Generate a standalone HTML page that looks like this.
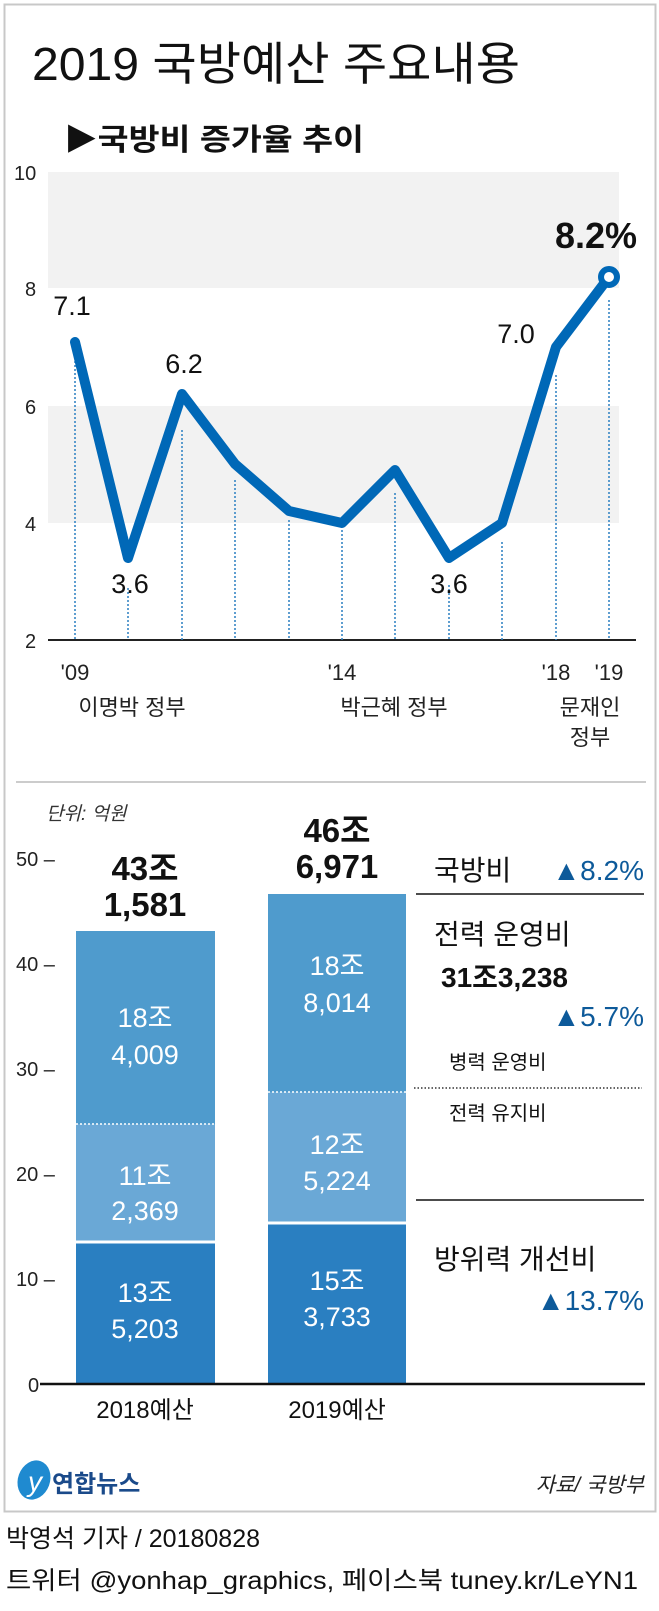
<!DOCTYPE html>
<html><head><meta charset="utf-8"><style>
html,body{margin:0;padding:0;background:#fff}
svg{display:block}
text{font-family:"Liberation Sans","Noto Sans CJK KR","NanumGothic",sans-serif}
</style></head><body>
<svg width="659" height="1611" viewBox="0 0 659 1611" xmlns="http://www.w3.org/2000/svg">
<rect x="4.5" y="4.5" width="651" height="1507" fill="#fff" stroke="#c8c8c8" stroke-width="2"/>
<text x="32" y="80" font-size="46" fill="#111" textLength="488" lengthAdjust="spacingAndGlyphs">2019 국방예산 주요내용</text>
<text x="64" y="150" font-size="30" font-weight="bold" fill="#111" textLength="300" lengthAdjust="spacingAndGlyphs">▶국방비 증가율 추이</text>
<rect x="48" y="172" width="571" height="116" fill="#f2f2f2"/>
<rect x="48" y="406" width="571" height="117" fill="#f2f2f2"/>
<line x1="48" y1="640" x2="636" y2="640" stroke="#222" stroke-width="2"/>
<g font-size="20" fill="#222">
<text x="14" y="180">10</text><text x="25" y="296">8</text><text x="25" y="414">6</text><text x="25" y="531">4</text><text x="25" y="648">2</text>
</g>
<g stroke="#2a7fc1" stroke-width="1.5" stroke-dasharray="2,2">
<line x1="75" y1="345" x2="75" y2="640"/><line x1="128" y1="588" x2="128" y2="640"/>
<line x1="182" y1="430" x2="182" y2="640"/><line x1="235" y1="480" x2="235" y2="640"/>
<line x1="289" y1="520" x2="289" y2="640"/><line x1="342" y1="530" x2="342" y2="640"/>
<line x1="395" y1="493" x2="395" y2="640"/><line x1="449" y1="585" x2="449" y2="640"/>
<line x1="502" y1="542" x2="502" y2="640"/><line x1="556" y1="375" x2="556" y2="640"/>
<line x1="609" y1="300" x2="609" y2="640"/>
</g>
<polyline fill="none" stroke="#0068b7" stroke-width="10" stroke-linejoin="round" stroke-linecap="round"
points="75,342 128,558 182,394 235,464 289,511 342,523 395,470 449,558 502,523 556,347 609,277"/>
<circle cx="609" cy="277" r="8" fill="#fff" stroke="#0068b7" stroke-width="6"/>
<g font-size="27" fill="#111" text-anchor="middle">
<text x="72" y="315">7.1</text><text x="130" y="593">3.6</text><text x="184" y="373">6.2</text>
<text x="449" y="593">3.6</text><text x="516" y="343">7.0</text>
</g>
<text x="596" y="248" font-size="36" font-weight="bold" fill="#111" text-anchor="middle">8.2%</text>
<g font-size="22" fill="#222" text-anchor="middle">
<text x="75" y="680">'09</text><text x="342" y="680">'14</text><text x="556" y="680">'18</text><text x="609" y="680">'19</text>
<text x="132" y="715">이명박 정부</text><text x="394" y="715">박근혜 정부</text>
<text x="590" y="715">문재인</text><text x="590" y="745">정부</text>
</g>
<line x1="16" y1="782" x2="646" y2="782" stroke="#ccc" stroke-width="2"/>
<text x="46" y="820" font-size="19" font-style="italic" fill="#333">단위: 억원</text>
<g font-size="20" fill="#222">
<text x="16" y="866">50 –</text><text x="16" y="971">40 –</text><text x="16" y="1076">30 –</text>
<text x="16" y="1181">20 –</text><text x="16" y="1286">10 –</text><text x="28" y="1392">0</text>
</g>
<rect x="76" y="931" width="139" height="193" fill="#4f9bcd"/>
<rect x="76" y="1124" width="139" height="118" fill="#6aa8d6"/>
<rect x="76" y="1242" width="139" height="142" fill="#2a7fc1"/>
<rect x="268" y="894" width="138" height="198" fill="#4f9bcd"/>
<rect x="268" y="1092" width="138" height="131" fill="#6aa8d6"/>
<rect x="268" y="1223" width="138" height="161" fill="#2a7fc1"/>
<g stroke="#fff"><line x1="76" y1="1124" x2="215" y2="1124" stroke-dasharray="2,2" stroke-width="1.5"/>
<line x1="268" y1="1092" x2="406" y2="1092" stroke-dasharray="2,2" stroke-width="1.5"/>
<line x1="76" y1="1242" x2="215" y2="1242" stroke-width="3"/>
<line x1="268" y1="1223" x2="406" y2="1223" stroke-width="3"/></g>
<line x1="40" y1="1384" x2="645" y2="1384" stroke="#111" stroke-width="2.5"/>
<g font-size="27" fill="#fff" text-anchor="middle">
<text x="145" y="1027">18조</text><text x="145" y="1064">4,009</text>
<text x="145" y="1185">11조</text><text x="145" y="1220">2,369</text>
<text x="145" y="1302">13조</text><text x="145" y="1338">5,203</text>
<text x="337" y="975">18조</text><text x="337" y="1012">8,014</text>
<text x="337" y="1154">12조</text><text x="337" y="1190">5,224</text>
<text x="337" y="1290">15조</text><text x="337" y="1326">3,733</text>
</g>
<g font-size="33" font-weight="bold" fill="#111" text-anchor="middle">
<text x="145" y="880">43조</text><text x="145" y="916">1,581</text>
<text x="337" y="842">46조</text><text x="337" y="878">6,971</text>
</g>
<text x="434" y="880" font-size="28" fill="#111">국방비</text>
<text x="644" y="880" font-size="28" fill="#0d5a9a" text-anchor="end">▲8.2%</text>
<line x1="416" y1="894" x2="644" y2="894" stroke="#111" stroke-width="1.5"/>
<text x="434" y="944" font-size="28" fill="#111">전력 운영비</text>
<text x="441" y="987" font-size="28" font-weight="bold" fill="#111">31조3,238</text>
<text x="644" y="1026" font-size="28" fill="#0d5a9a" text-anchor="end">▲5.7%</text>
<text x="449" y="1069" font-size="20" fill="#111">병력 운영비</text>
<line x1="414" y1="1088" x2="642" y2="1088" stroke="#333" stroke-width="1.5" stroke-dasharray="1.5,2"/>
<text x="449" y="1120" font-size="20" fill="#111">전력 유지비</text>
<line x1="416" y1="1200" x2="644" y2="1200" stroke="#111" stroke-width="1.5"/>
<text x="434" y="1269" font-size="28" fill="#111">방위력 개선비</text>
<text x="644" y="1310" font-size="28" fill="#0d5a9a" text-anchor="end">▲13.7%</text>
<g font-size="24" fill="#111" text-anchor="middle">
<text x="145" y="1418">2018예산</text><text x="337" y="1418">2019예산</text>
</g>
<ellipse cx="34" cy="1480" rx="16" ry="20" fill="#1f8ad0" transform="rotate(20 34 1480)"/>
<text x="28" y="1491" font-size="28" font-style="italic" fill="#fff">y</text>
<text x="52" y="1492" font-size="24" font-weight="bold" fill="#1a4a8a">연합뉴스</text>
<text x="644" y="1492" font-size="21" font-style="italic" fill="#222" text-anchor="end">자료/ 국방부</text>
<text x="6" y="1547" font-size="25" fill="#111">박영석 기자 / 20180828</text>
<text x="6" y="1589" font-size="25" fill="#111" textLength="632" lengthAdjust="spacingAndGlyphs">트위터 @yonhap_graphics, 페이스북 tuney.kr/LeYN1</text>
</svg>
</body></html>
